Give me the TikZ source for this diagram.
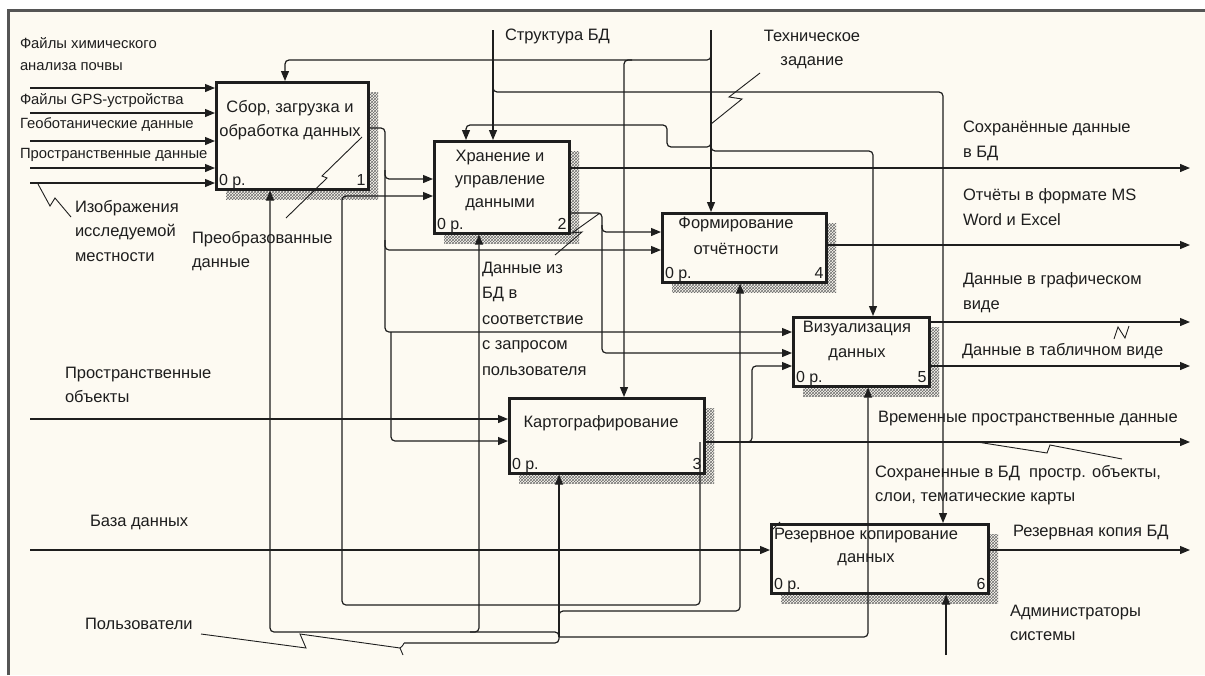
\documentclass[tikz,border=0pt]{standalone}
\usepackage{fontspec}
\setmainfont{Liberation Sans}
\usetikzlibrary{arrows.meta,patterns}
\definecolor{paper}{RGB}{253,250,242}
\definecolor{rim}{RGB}{85,85,85}
\definecolor{ink}{RGB}{30,30,30}
\definecolor{hatch}{RGB}{110,110,110}
% activity box with a hatched drop shadow: name, x, y (top left), width, height
\newcommand{\actbox}[5]{%
  \fill[pattern=crosshatch,pattern color=hatch] (#2+11,#3+11) rectangle (#2+#4+11,#3+#5+11);
  \node[act,minimum width=#4pt,minimum height=#5pt] (#1) at (#2,#3) {};}
\begin{document}
\begin{tikzpicture}[x=1pt,y=-1pt,
  every node/.style={inner sep=0pt,outer sep=0pt,text=ink},
  lbl/.style={anchor=north west,align=left,font=\fontsize{16.5}{24.5}\selectfont},
  small/.style={anchor=north west,align=left,font=\fontsize{14.8}{22}\selectfont},
  ttl/.style={anchor=north,align=center,font=\fontsize{16.5}{24}\selectfont},
  tag/.style={font=\fontsize{16}{18}\selectfont},
  act/.style={draw=ink,line width=2.6pt,fill=paper,anchor=north west,outer sep=1.3pt},
  flow/.style={draw=ink,line width=1.2pt,rounded corners=4pt},
  arr/.style={flow,-{Triangle[length=10pt,width=8pt]}},
  zig/.style={draw=ink,line width=0.9pt},
]
\useasboundingbox (0,0) rectangle (1205,675);
% sheet and frame
\fill[white] (0,0) rectangle (1205,675);
\fill[paper] (8,10) rectangle (1205,675);
\draw[rim,line width=3pt] (8,675) -- (8,10) -- (1205,10);

% activities
\actbox{b1}{215}{81}{152}{107}
\actbox{b2}{433}{140}{135}{92}
\actbox{b4}{661}{212}{164}{69}
\actbox{b5}{792}{316}{136}{69}
\actbox{b3}{508}{397}{195}{75}
\actbox{b6}{770}{523}{217}{69}

\node[ttl] (t1) at (290,100) {Сбор, загрузка и\\обработка данных};
\node[ttl,font=\fontsize{16.5}{23}\selectfont] (t2) at (500,150) {Хранение и\\управление\\данными};
\node[ttl,font=\fontsize{16.5}{26}\selectfont] (t4) at (736,217) {Формирование\\отчётности};
\node[ttl,font=\fontsize{16.5}{25}\selectfont] (t5) at (857,321) {Визуализация\\данных};
\node[ttl] (t3) at (601,416) {Картографирование};
\node[ttl,font=\fontsize{16.5}{23}\selectfont] (t6) at (866,528) {Резервное копирование\\данных};

\foreach \b/\n in {b1/1,b2/2,b3/3,b4/4,b5/5,b6/6}{
  \node[tag,anchor=south west] (\b z) at ([shift={(4,-2)}]\b.south west) {0 р.};
  \node[tag,anchor=south east] (\b n) at ([shift={(-4,-5)}]\b.south east) {\n};
}

% free ends of boundary arrows
\coordinate (inchem) at (30,88);
\coordinate (ingps) at (30,113);
\coordinate (ingeo) at (30,141);
\coordinate (inspd) at (30,168);
\coordinate (inimg) at (30,183);
\coordinate (inobj) at (30,419);
\coordinate (indb) at (30,550);
\coordinate (instruct) at (493,30);
\coordinate (intz) at (711,30);
\coordinate (inusers) at (404,643);
\coordinate (inadm) at (946,655);
\coordinate (outsaved) at (1190,168);
\coordinate (outrep) at (1190,245);
\coordinate (outgraph) at (1190,322);
\coordinate (outtab) at (1190,366);
\coordinate (outtemp) at (1190,442);
\coordinate (outcopy) at (1190,550);

% inputs
\foreach \c in {inchem,ingps,ingeo,inspd,inimg}
  \draw[arr] (\c) -- (b1.west |- \c);
\draw[arr] (inobj) -- (b3.west |- inobj);
\draw[arr] (indb) -- (b6.west |- indb);

% controls
\draw[arr] (intz) -- (b4.north -| intz);
\draw[arr] (711,52) -- (711,60) -- (285,60) -- (b1.north -| 285,0);
\draw[arr] (632,60) -- (624,60) -- (b3.north -| 624,0);
\draw[arr] (711,138) -- (711,147) -- (667,147) -- (667,125) -- (466,125) -- (b2.north -| 466,0);
\draw[arr] (711,143) -- (711,151) -- (873,151) -- (b5.north -| 873,0);
\draw[arr] (instruct) -- (b2.north -| instruct);
\draw[arr] (493,84) -- (493,92) -- (943,92) -- (b6.north -| 943,0);

% outputs of activity 1
\draw[arr] (b1.east |- 0,128) -- (385,128) -- (385,179) -- (b2.west |- 0,179);
\draw[arr] (385,170) -- (385,250) -- (b4.west |- 0,250);
\draw[arr] (385,240) -- (385,332) -- (b5.west |- 0,332);
\draw[arr] (391,332) -- (391,441) -- (b3.west |- 0,441);

% outputs of activity 2
\draw[arr] (b2.east |- outsaved) -- (outsaved);
\draw[arr] (b2.east |- 0,213) -- (602,213) -- (602,232) -- (b4.west |- 0,232);
\draw[arr] (602,225) -- (602,353) -- (b5.west |- 0,353);

% outputs of activities 4, 5, 6
\draw[arr] (b4.east |- outrep) -- (outrep);
\draw[arr] (b5.east |- outgraph) -- (outgraph);
\draw[arr] (b5.east |- outtab) -- (outtab);
\draw[arr] (b6.east |- outcopy) -- (outcopy);

% outputs of activity 3
\draw[arr] (b3.east |- outtemp) -- (outtemp);
\draw[arr] (744,442) -- (752,442) -- (752,366) -- (b5.west |- 0,366);
\draw[arr] (700,442) -- (700,605) -- (342,605) -- (342,196) -- (b2.west |- 0,196);

% mechanisms
\draw[arr] (inusers) -- (559,643) -- (559,632) -- (270,632) -- (b1.south -| 270,0);
\draw[arr] (470,632) -- (479,632) -- (b2.south -| 479,0);
\draw[arr] (559,637) -- (b3.south -| 559,0);
\draw[arr] (559,637) -- (868,637) -- (b5.south -| 868,0);
\draw[arr] (559,618) -- (559,611) -- (740,611) -- (b4.south -| 740,0);
\draw[arr] (inadm) -- (b6.south -| inadm);

% labels
\node[small] (lchem) at (20,38) {Файлы химического\\анализа почвы};
\node[small] (lgps) at (20,94) {Файлы GPS-устройства};
\node[small] (lgeo) at (20,118) {Геоботанические данные};
\node[small] (lspd) at (20,148) {Пространственные данные};
\node[lbl] (limg) at (75,200) {Изображения\\исследуемой\\местности};
\node[lbl] (lconv) at (192,231) {Преобразованные\\данные};
\node[lbl] (lstruct) at (505,29) {Структура БД};
\node[lbl,align=center,anchor=north] (ltz) at (812,30) {Техническое\\задание};
\node[lbl] (lsaved) at (963,121) {Сохранённые данные\\в БД};
\node[lbl] (lrep) at (963,189) {Отчёты в формате MS\\Word и Excel};
\node[lbl] (lgraph) at (963,273) {Данные в графическом\\виде};
\node[lbl] (ltab) at (962,343) {Данные в табличном виде};
\node[lbl] (ltemp) at (878,411) {Временные пространственные данные};
\node[lbl] (lstored) at (875,465) {Сохраненные в БД\ \ простр. объекты,\\слои, тематические карты};
\node[lbl] (lcopy) at (1013,525) {Резервная копия БД};
\node[lbl] (ladm) at (1010,605) {Администраторы\\системы};
\node[lbl] (lobj) at (65,367) {Пространственные\\объекты};
\node[lbl] (ldb) at (90,515) {База данных};
\node[lbl] (lusers) at (85,618) {Пользователи};
\node[lbl,font=\fontsize{16.5}{25.5}\selectfont] (lquery) at (482,262) {Данные из\\БД в\\соответствие\\с запросом\\пользователя};

% squiggles tying labels to their arrows
\draw[zig] (38,184) -- (50,206) -- (55,198) -- (71,217);
\draw[zig] (286,218) -- (327,178) -- (322,176) -- (362,137);
\draw[zig] (760,73) -- (729,97) -- (742,99) -- (711,124);
\draw[zig] (555,255) -- (582,232) -- (572,233) -- (600,213);
\draw[zig] (1114,339) -- (1118,327) -- (1125,338) -- (1129,326);
\draw[zig] (977,442) -- (1047,453) -- (1050,445) -- (1122,459);
\draw[zig] (201,634) -- (306,648) -- (300,634) -- (400,648) -- (403,655);
\draw[zig] (400,648) .. controls (403,646) and (404,643) .. (inusers);
\draw[zig] (772,530) -- (780,522);
\end{tikzpicture}
\end{document}
